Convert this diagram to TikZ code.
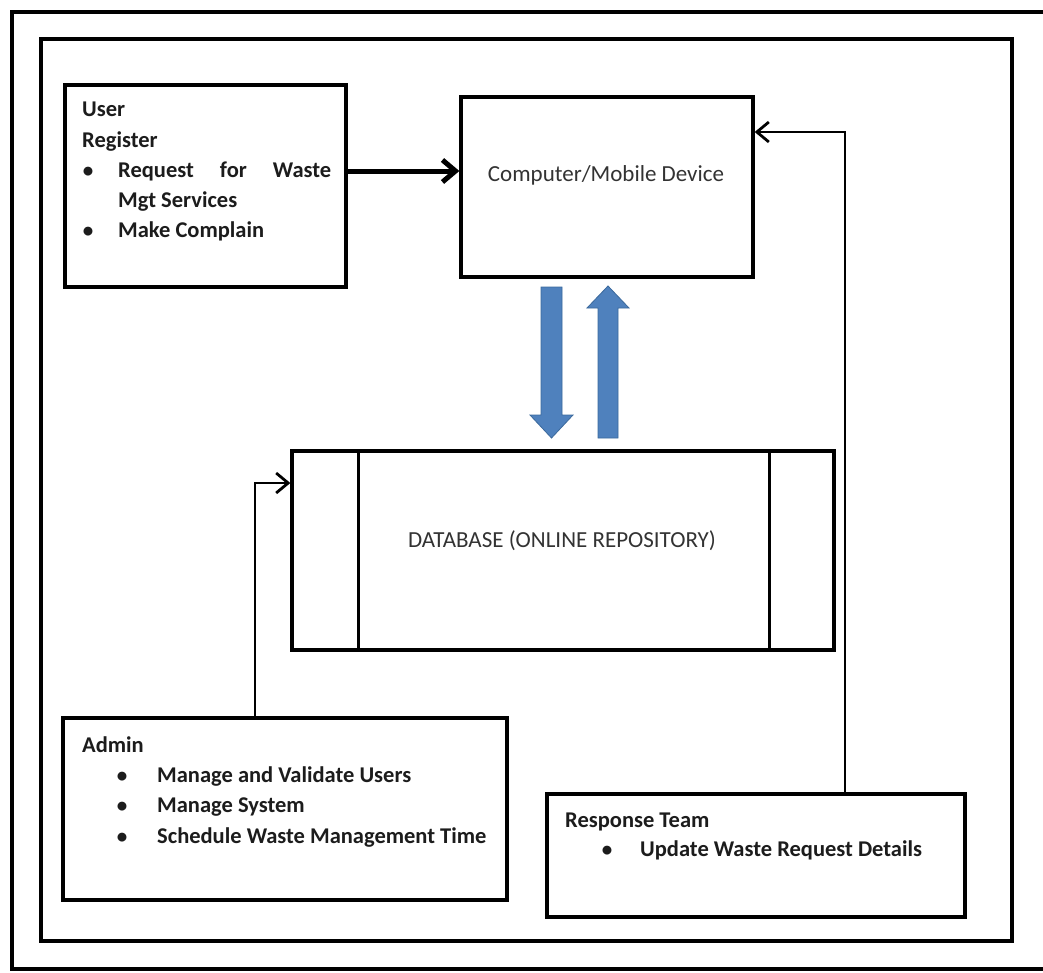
\documentclass[tikz,border=0pt]{standalone}
\usepackage{fontspec}
\setmainfont{Carlito}
\usetikzlibrary{arrows.meta}
\definecolor{flowblue}{HTML}{4F81BD}
\definecolor{flowedge}{HTML}{3B699C}
\definecolor{ink}{HTML}{1C1C1C}

\begin{document}
\begin{tikzpicture}[x=1pt,y=-1pt,
  box/.style={draw=black,line width=3.3pt,inner sep=0pt,fill=white},
  txt/.style={anchor=base west,inner sep=0pt,text=ink,
    font=\fontsize{22.5}{27}\selectfont\bfseries},
  bul/.style={anchor=base,inner sep=0pt,text=ink,
    font=\fontsize{21}{27}\selectfont\bfseries},
  plain/.style={anchor=base,inner sep=0pt,text=ink!90,
    font=\fontsize{23}{27}\selectfont},
  link/.style={line width=2.8pt,-{Straight Barb[length=12pt,width=20pt]}},
  boldlink/.style={line width=5pt,-{Straight Barb[length=13pt,width=22pt]}},
  bigarrow/.style={fill=flowblue,draw=flowedge,line width=0.8pt,line join=miter}]

\useasboundingbox (0,0) rectangle (1043,972);
\fill[white] (0,0) rectangle (1043,972);

% frames
\draw[line width=4.8pt] (1060,12) -- (12,12) -- (12,969) -- (1060,969);
\draw[line width=3.3pt] (41,39) rectangle (1012,941);

% boxes
\node[box,minimum width=281pt,minimum height=202pt] (user) at (205.5,186) {};
\node[box,minimum width=292pt,minimum height=180pt] (comp) at (607,187) {};
\node[box,minimum width=542pt,minimum height=199pt] (db) at (563,550.5) {};
\node[box,minimum width=444pt,minimum height=182pt] (admin) at (285,809) {};
\node[box,minimum width=418pt,minimum height=123pt] (resp) at (756,855.5) {};

% database side bars
\draw[line width=3.3pt] ([xshift=68pt]db.north west) -- ([xshift=68pt]db.south west);
\draw[line width=3.3pt] ([xshift=-66pt]db.north east) -- ([xshift=-66pt]db.south east);

% user text
\node[txt] (u1) at (82,116) {User};
\node[txt] (u2) at (82,147) {Register};
\node[bul] (ub1) at (88,177) {\textbullet};
\node[txt] (u3) at (118,177) {\makebox[213pt][s]{Request for Waste}};
\node[txt] (u4) at (118,207) {Mgt Services};
\node[bul] (ub2) at (88,237) {\textbullet};
\node[txt] (u5) at (118,237) {Make Complain};

% centre labels
\node[plain] (ct) at (606,181) {Computer/Mobile Device};
\node[plain] (dt) at (562,547) {DATABASE (ONLINE REPOSITORY)};

% admin text
\node[txt] (a1) at (82,752) {Admin};
\node[bul] (ab1) at (122,782) {\textbullet};
\node[txt] (a2) at (157,782) {Manage and Validate Users};
\node[bul] (ab2) at (122,812) {\textbullet};
\node[txt] (a3) at (157,812) {Manage System};
\node[bul] (ab3) at (122,843) {\textbullet};
\node[txt] (a4) at (157,843) {Schedule Waste Management Time};

% response team text
\node[txt] (r1) at (565,827) {Response Team};
\node[bul] (rb1) at (607,856) {\textbullet};
\node[txt] (r2) at (640,856) {Update Waste Request Details};

% connectors
\coordinate (uy) at (0,171);
\draw[boldlink] (user.east |- uy) -- (comp.west |- uy);

\coordinate (ax) at (255,0);
\coordinate (ay) at (0,483);
\draw[link] (admin.north -| ax) |- (db.west |- ay);

\coordinate (rx) at (845,0);
\coordinate (ry) at (0,132);
\draw[link] (resp.north -| rx) |- (comp.east |- ry);

% data flow arrows between device and database
\draw[bigarrow] (541,287) -- (562,287) -- (562,415) -- (573,415) -- (551.5,438)
  -- (530,415) -- (541,415) -- cycle;
\draw[bigarrow] (598,438) -- (618,438) -- (618,308) -- (629,308) -- (608,286)
  -- (587,308) -- (598,308) -- cycle;

\end{tikzpicture}
\end{document}
